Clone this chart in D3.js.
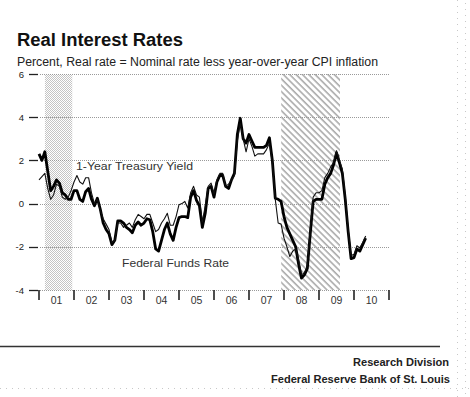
<!DOCTYPE html>
<html><head><meta charset="utf-8">
<script src="https://cdn.jsdelivr.net/npm/d3@7"></script>
<style>html,body{margin:0;padding:0;background:#fff;}svg{display:block;}</style>
</head><body><svg id="chart" width="470" height="397"></svg>
<script>
// ---- data (monthly, Jan 2001 .. May 2010) ----
const startYear = 2001;
const fedFundsReal = [
  2.3, 2.0, 2.4, 1.5, 0.6, 0.8, 1.1, 0.95, 0.5, 0.4, 0.2, 0.2,
  0.6, 0.6, 0.2, 0.1, 0.55, 0.7, 0.2, -0.1, 0.25, -0.25, -0.9, -1.2,
  -1.4, -1.9, -1.7, -0.8, -0.8, -0.9, -1.1, -1.2, -1.35, -1.0, -0.85, -1.0,
  -0.9, -0.7, -0.75, -1.3, -2.1, -2.2, -1.7, -1.2, -0.9, -1.4, -1.7, -1.1,
  -0.65, -0.6, -0.6, -0.65, 0.3, 0.6, 0.15, -0.1, -1.1, -0.45, 0.7, 0.8,
  0.3, 1.0, 1.3, 1.3, 0.8, 0.7, 1.1, 1.4, 3.2, 3.95, 3.0, 2.8,
  3.2, 2.9, 2.6, 2.6, 2.6, 2.6, 2.7, 3.05, 2.0, 0.25, 0.2, 0.1,
  -0.6, -1.1, -1.4, -1.7, -2.0, -2.8, -3.45, -3.3, -3.0, -1.4, 0.1, 0.2,
  0.2, 0.2, 0.9, 1.2, 1.4, 1.8, 2.35, 1.9, 1.4, 0.2, -1.3, -2.55,
  -2.5, -2.1, -2.2, -1.9, -1.6
];
const treasury1yReal = [
  1.1, 1.25, 1.4, 0.7, 0.2, 0.4, 0.9, 0.8, 0.3, 0.2, 0.3, 0.6,
  1.0, 1.3, 1.0, 0.9, 1.2, 1.2, 0.5, 0.0, 0.2, -0.3, -0.7, -0.95,
  -1.2, -1.8, -1.7, -0.9, -0.9, -1.1, -1.0, -0.9, -1.1, -0.75, -0.5, -0.6,
  -0.7, -0.5, -0.5, -0.9, -1.3, -1.2, -0.9, -0.7, -0.45, -1.0, -1.0, -0.6,
  -0.05, 0.0, 0.1, -0.2, 0.5, 0.8, 0.4, 0.3, -0.85, -0.1, 0.8, 0.95,
  0.45, 1.1, 1.4, 1.4, 0.8, 0.9, 1.1, 1.3, 2.9, 3.7, 3.0, 2.4,
  3.0, 2.65, 2.2, 2.3, 2.3, 2.3, 2.5, 2.8, 1.9, 0.2, -0.9, -0.95,
  -1.6, -2.0, -2.45, -2.2, -2.1, -2.6, -3.3, -3.2, -2.9, -1.2, 0.3, 0.5,
  0.5, 0.6, 1.2, 1.4, 1.7, 1.9, 2.45, 2.0, 1.6, 0.35, -1.2, -2.4,
  -2.35, -1.95, -2.05, -1.8, -1.5
];
const yTicks = [6, 4, 2, 0, -2, -4];
const yearTicks = [2001, 2002, 2003, 2004, 2005, 2006, 2007, 2008, 2009, 2010, 2011];
const yearLabels = ["01", "02", "03", "04", "05", "06", "07", "08", "09", "10"];
const recessions = [[2001.17, 2001.95], [2007.92, 2009.6]];
const recessionStyles = ["stipple", "hatch"];
const title = "Real Interest Rates";
const subtitle = "Percent, Real rate = Nominal rate less year-over-year CPI inflation";
const seriesLabels = ["1-Year Treasury Yield", "Federal Funds Rate"];
const footer = ["Research Division", "Federal Reserve Bank of St. Louis"];

// ---- drawing ----
const svg = d3.select("#chart");
const x = d3.scaleLinear().domain([2001, 2011]).range([39, 389]);
const y = d3.scaleLinear().domain([-4, 6]).range([290, 74]);
const font = "'Liberation Sans', Arial, sans-serif";

// faint dotted frame artifacts
const deco = svg.append("g").attr("stroke", "#c8c8c8").attr("stroke-width", 1).attr("stroke-dasharray", "1,5");
deco.append("line").attr("x1", 457.5).attr("x2", 457.5).attr("y1", 0).attr("y2", 397);
deco.append("line").attr("x1", 465.5).attr("x2", 465.5).attr("y1", 3).attr("y2", 397);
deco.append("line").attr("x1", 0).attr("x2", 470).attr("y1", 388.5).attr("y2", 388.5);

// patterns
const defs = svg.append("defs");
const p1 = defs.append("pattern").attr("id", "stipple").attr("patternUnits", "userSpaceOnUse")
  .attr("width", 2).attr("height", 2);
p1.append("rect").attr("width", 2).attr("height", 2).attr("fill", "#fff");
p1.append("rect").attr("width", 1).attr("height", 1).attr("fill", "#c4c4c4");
p1.append("rect").attr("x", 1).attr("y", 1).attr("width", 1).attr("height", 1).attr("fill", "#c4c4c4");
const p2 = defs.append("pattern").attr("id", "hatch").attr("patternUnits", "userSpaceOnUse")
  .attr("width", 4.5).attr("height", 4.5).attr("patternTransform", "rotate(45)");
p2.append("rect").attr("width", 4.5).attr("height", 4.5).attr("fill", "#fff");
p2.append("line").attr("x1", 0).attr("x2", 4.5).attr("y1", 0.8).attr("y2", 0.8)
  .attr("stroke", "#a0a0a0").attr("stroke-width", 1.4);

svg.append("g").selectAll("rect").data(recessions).join("rect")
  .attr("x", d => x(d[0])).attr("width", d => x(d[1]) - x(d[0]))
  .attr("y", y(6)).attr("height", y(-4) - y(6))
  .attr("fill", (d, i) => `url(#${recessionStyles[i]})`);

// gridlines
svg.append("g").selectAll("line").data(yTicks).join("line")
  .attr("x1", 40).attr("x2", 390)
  .attr("y1", d => Math.round(y(d)) + 0.5).attr("y2", d => Math.round(y(d)) + 0.5)
  .attr("stroke", "#9a9a9a").attr("stroke-width", 1).attr("stroke-dasharray", "1,1");

// y ticks + labels
const yg = svg.append("g");
yg.selectAll("line").data(yTicks).join("line")
  .attr("x1", 29).attr("x2", 38)
  .attr("y1", d => Math.round(y(d)) + 0.5).attr("y2", d => Math.round(y(d)) + 0.5)
  .attr("stroke", "#222").attr("stroke-width", 1.3);
yg.selectAll("text").data(yTicks).join("text")
  .attr("x", 24).attr("y", d => y(d) + 3.5).attr("text-anchor", "end")
  .attr("font-family", font).attr("font-size", 9.5).attr("fill", "#222")
  .text(d => d);

// x ticks + labels
const xg = svg.append("g");
xg.selectAll("line").data(yearTicks).join("line")
  .attr("x1", d => Math.round(x(d))).attr("x2", d => Math.round(x(d)))
  .attr("y1", 290).attr("y2", 300)
  .attr("stroke", "#222").attr("stroke-width", 1.6);
xg.selectAll("text").data(yearLabels).join("text")
  .attr("x", (d, i) => x(2001 + i + 0.5)).attr("y", 303.5).attr("text-anchor", "middle")
  .attr("font-family", font).attr("font-size", 10.5).attr("fill", "#333")
  .text(d => d);

// lines
const line = d3.line().x((d, i) => x(startYear + i / 12)).y(d => y(d));
svg.append("path").datum(fedFundsReal).attr("d", line)
  .attr("fill", "none").attr("stroke", "#000").attr("stroke-width", 2.8).attr("stroke-linejoin", "round");
svg.append("path").datum(treasury1yReal).attr("d", line)
  .attr("fill", "none").attr("stroke", "#111").attr("stroke-width", 1.1).attr("stroke-linejoin", "round");

// series labels
svg.append("text").attr("x", 76).attr("y", 170).attr("font-family", font).attr("font-size", 11.5)
  .attr("fill", "#333").attr("textLength", 117).attr("lengthAdjust", "spacingAndGlyphs").text(seriesLabels[0]);
svg.append("text").attr("x", 122).attr("y", 267).attr("font-family", font).attr("font-size", 11.5)
  .attr("fill", "#333").attr("textLength", 107).attr("lengthAdjust", "spacingAndGlyphs").text(seriesLabels[1]);

// titles
svg.append("text").attr("x", 17).attr("y", 46).attr("font-family", font).attr("font-size", 18)
  .attr("font-weight", "bold").attr("fill", "#111")
  .attr("textLength", 166).attr("lengthAdjust", "spacingAndGlyphs").text(title);
svg.append("text").attr("x", 17).attr("y", 65.5).attr("font-family", font).attr("font-size", 12)
  .attr("fill", "#222").attr("textLength", 361).attr("lengthAdjust", "spacingAndGlyphs").text(subtitle);

// footer
svg.append("line").attr("x1", 0).attr("x2", 440).attr("y1", 346.5).attr("y2", 346.5)
  .attr("stroke", "#333").attr("stroke-width", 1.5);
svg.append("text").attr("x", 353).attr("y", 366)
  .attr("font-family", font).attr("font-size", 11.5).attr("font-weight", "bold").attr("fill", "#222")
  .attr("textLength", 96).attr("lengthAdjust", "spacingAndGlyphs").text(footer[0]);
svg.append("text").attr("x", 271).attr("y", 383)
  .attr("font-family", font).attr("font-size", 11.5).attr("font-weight", "bold").attr("fill", "#222")
  .attr("textLength", 179).attr("lengthAdjust", "spacingAndGlyphs").text(footer[1]);
</script></body></html>
